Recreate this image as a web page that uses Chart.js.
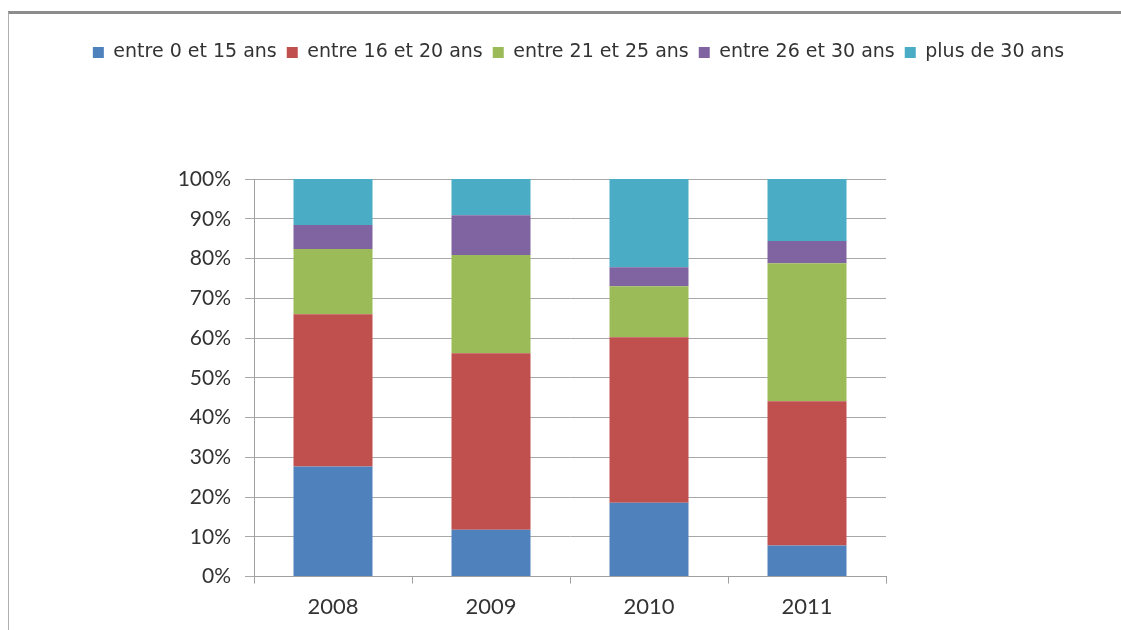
<!DOCTYPE html>
<html>
<head>
<meta charset="UTF-8">
<title>Répartition par âge</title>
<script src="https://cdn.jsdelivr.net/npm/chart.js@4/dist/chart.umd.min.js"></script>
<style>
  html, body { margin: 0; padding: 0; background: #fff; }
  #frame {
    position: absolute; left: 8px; top: 11px; width: 1113px; height: 619px;
    border-top: 3px solid #8c8c8c; border-left: 1px solid #b0b0b0; box-sizing: border-box;
  }
  #wrap { position: absolute; left: 0; top: 0; width: 1121px; height: 630px; }
</style>
</head>
<body>
<div id="frame"></div>
<div id="wrap"><canvas id="chart"></canvas></div>
<script>
// categories and series (percent of each year)
const years = ['2008', '2009', '2010', '2011'];
const seriesNames = ['entre 0 et 15 ans', 'entre 16 et 20 ans', 'entre 21 et 25 ans', 'entre 26 et 30 ans', 'plus de 30 ans'];
const age0to15 = [27.7, 11.8, 18.6, 7.8];
const age16to20 = [38.3, 44.4, 41.6, 36.3];
const age21to25 = [16.4, 24.7, 12.8, 34.7];
const age26to30 = [6.0, 10.0, 4.8, 5.6];
const over30 = [11.6, 9.1, 22.2, 15.6];
const yTicks = [0, 10, 20, 30, 40, 50, 60, 70, 80, 90, 100];

const colors = ['#4f81bd', '#c0504d', '#9bbb59', '#8064a2', '#4bacc6'];
const values = [age0to15, age16to20, age21to25, age26to30, over30];

const datasets = values.map((v, i) => ({
  label: seriesNames[i],
  data: v,
  backgroundColor: colors[i],
  borderWidth: 0,
  barPercentage: 0.5,
  categoryPercentage: 1
}));

// leave empty room under the legend, like the original sheet
const legendGap = {
  id: 'legendGap',
  beforeUpdate(chart) {
    const lg = chart.legend;
    if (lg && !lg._gapPatched) {
      const fit = lg.fit;
      lg.fit = function () { fit.call(this); this.height += 107; };
      lg._gapPatched = true;
    }
  }
};

new Chart(document.getElementById('chart'), {
  type: 'bar',
  data: { labels: years, datasets },
  plugins: [legendGap],
  options: {
    responsive: true,
    maintainAspectRatio: false,
    animation: false,
    layout: { padding: { left: 36, right: 0, top: 33, bottom: 0 } },
    plugins: {
      tooltip: { enabled: false },
      legend: {
        position: 'top',
        labels: {
          boxWidth: 11, boxHeight: 11, padding: 10,
          color: '#333',
          font: { family: 'DejaVu Sans', size: 19 }
        }
      }
    },
    scales: {
      x: {
        stacked: true,
        grid: { drawOnChartArea: false, drawTicks: true, tickLength: 7, color: '#a0a0a0' },
        border: { color: '#a0a0a0' },
        ticks: { color: '#333', font: { family: 'Lato', size: 22 }, padding: 10 }
      },
      y: {
        stacked: true,
        min: 0, max: 100,
        afterFit: s => { s.width = 218; },
        afterBuildTicks: s => { s.ticks = yTicks.map(v => ({ value: v })); },
        grid: { color: '#a8a8a8', tickLength: 9 },
        border: { color: '#a0a0a0' },
        ticks: { color: '#333', font: { family: 'Lato', size: 21 }, padding: 14, callback: v => v + '%' }
      },
      spacer: {
        position: 'right',
        grid: { display: false },
        border: { display: false },
        ticks: { display: false },
        afterFit: s => { s.width = 235; }
      }
    }
  }
});
</script>
</body>
</html>
